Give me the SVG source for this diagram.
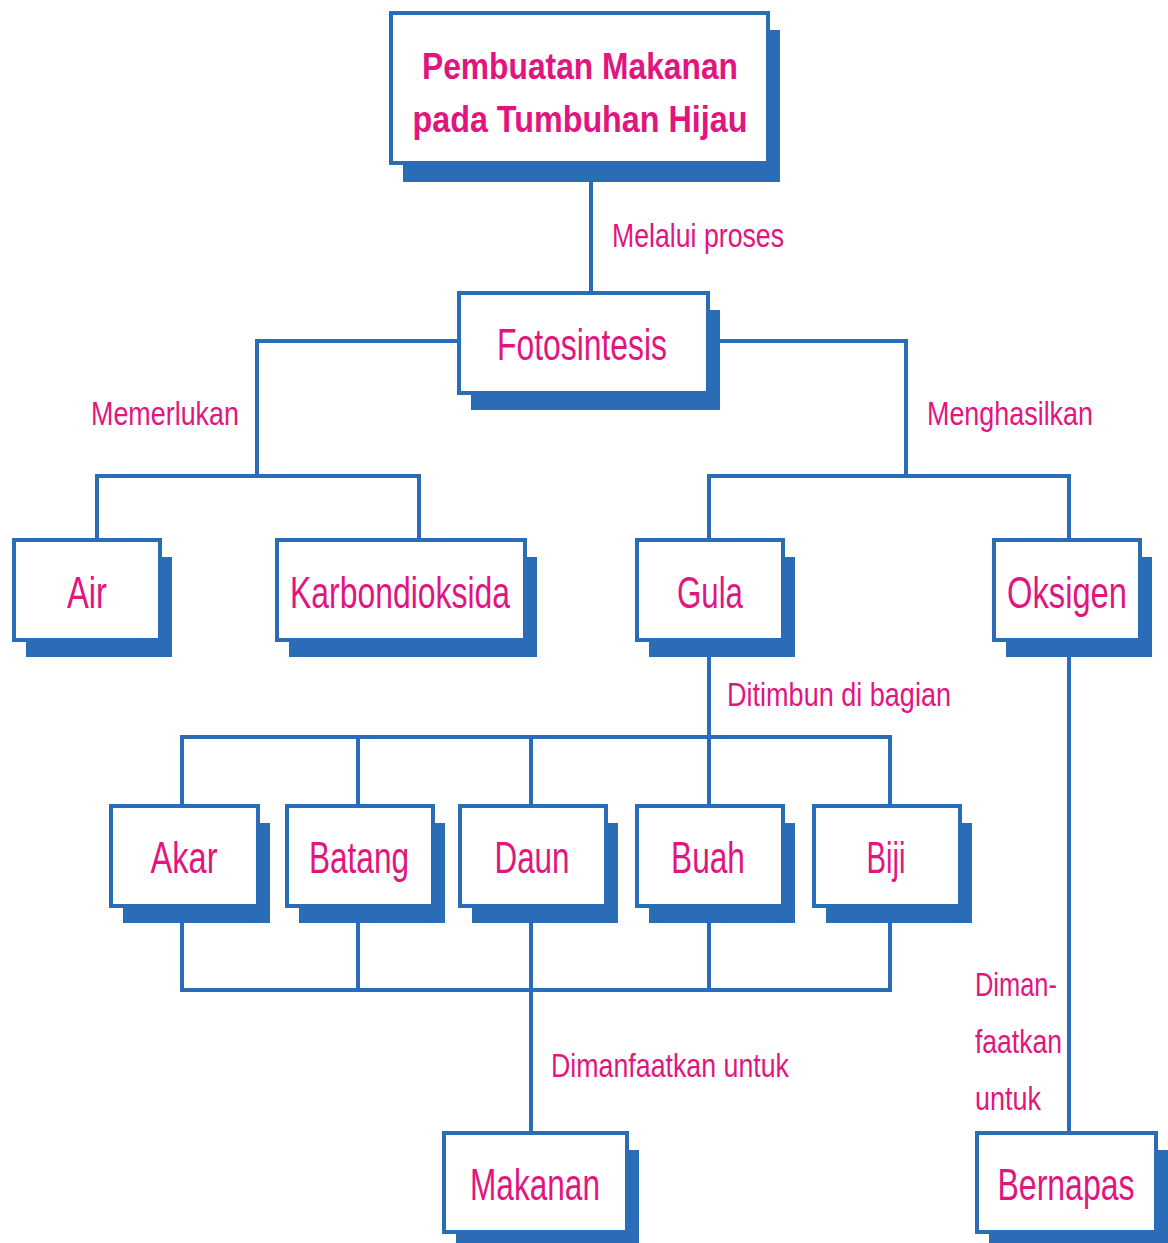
<svg xmlns="http://www.w3.org/2000/svg" width="1168" height="1243" viewBox="0 0 1168 1243">
<style>
.sh{fill:#2a6db6;stroke:none}
.bx{fill:#ffffff;stroke:#2a6db6;stroke-width:4}
.ln{fill:none;stroke:#2a6db6;stroke-width:4}
.nt{font-family:"Liberation Sans",Arial,sans-serif;font-size:44px;fill:#e2157f;text-anchor:middle}
.lb{font-family:"Liberation Sans",Arial,sans-serif;font-size:34px;fill:#e2157f}
.tt{font-family:"Liberation Sans",Arial,sans-serif;font-size:37px;font-weight:bold;fill:#e2157f;text-anchor:middle}
</style>
<rect width="1168" height="1243" fill="#ffffff"/>
<g id="connectors" class="ln">
<path d="M591 165 V293"/>
<path d="M459 341 H257 V476"/>
<path d="M97 540 V476 H419 V540"/>
<path d="M708 341 H906 V476"/>
<path d="M709 540 V476 H1069 V540"/>
<path d="M709 657 V806"/>
<path d="M182 806 V737 H890 V806"/>
<path d="M358 737 V806"/>
<path d="M531 737 V806"/>
<path d="M182 923 V990 H890 V923"/>
<path d="M358 923 V990"/>
<path d="M709 923 V990"/>
<path d="M531 923 V1133"/>
<path d="M1069 657 V1133"/>
</g>
<g id="labels">
<text class="lb" x="612" y="247" textLength="172" lengthAdjust="spacingAndGlyphs">Melalui proses</text>
<text class="lb" x="91" y="425" textLength="148" lengthAdjust="spacingAndGlyphs">Memerlukan</text>
<text class="lb" x="927" y="425" textLength="166" lengthAdjust="spacingAndGlyphs">Menghasilkan</text>
<text class="lb" x="727" y="706" textLength="224" lengthAdjust="spacingAndGlyphs">Ditimbun di bagian</text>
<text class="lb" x="551" y="1077" textLength="238" lengthAdjust="spacingAndGlyphs">Dimanfaatkan untuk</text>
<text class="lb" x="975" y="996" textLength="82" lengthAdjust="spacingAndGlyphs">Diman-</text>
<text class="lb" x="975" y="1053" textLength="87" lengthAdjust="spacingAndGlyphs">faatkan</text>
<text class="lb" x="975" y="1110" textLength="66" lengthAdjust="spacingAndGlyphs">untuk</text>
</g>
<g id="title">
<rect class="sh" x="403" y="30" width="377" height="152"/>
<rect class="bx" x="391" y="13" width="377" height="150"/>
<text class="tt" x="580" y="79" textLength="316" lengthAdjust="spacingAndGlyphs">Pembuatan Makanan</text>
<text class="tt" x="580" y="132" textLength="335" lengthAdjust="spacingAndGlyphs">pada Tumbuhan Hijau</text>
</g>
<g id="fotosintesis">
<rect class="sh" x="471" y="310" width="249" height="100"/>
<rect class="bx" x="459" y="293" width="249" height="100"/>
<text class="nt" x="582" y="360" textLength="170" lengthAdjust="spacingAndGlyphs">Fotosintesis</text>
</g>
<g id="air">
<rect class="sh" x="26" y="557" width="146" height="100"/>
<rect class="bx" x="14" y="540" width="146" height="100"/>
<text class="nt" x="87" y="608" textLength="40" lengthAdjust="spacingAndGlyphs">Air</text>
</g>
<g id="karbondioksida">
<rect class="sh" x="289" y="557" width="248" height="100"/>
<rect class="bx" x="277" y="540" width="248" height="100"/>
<text class="nt" x="400" y="608" textLength="220" lengthAdjust="spacingAndGlyphs">Karbondioksida</text>
</g>
<g id="gula">
<rect class="sh" x="649" y="557" width="146" height="100"/>
<rect class="bx" x="637" y="540" width="146" height="100"/>
<text class="nt" x="710" y="608" textLength="66" lengthAdjust="spacingAndGlyphs">Gula</text>
</g>
<g id="oksigen">
<rect class="sh" x="1006" y="557" width="146" height="100"/>
<rect class="bx" x="994" y="540" width="146" height="100"/>
<text class="nt" x="1067" y="608" textLength="120" lengthAdjust="spacingAndGlyphs">Oksigen</text>
</g>
<g id="akar">
<rect class="sh" x="123" y="823" width="147" height="100"/>
<rect class="bx" x="111" y="806" width="147" height="100"/>
<text class="nt" x="184" y="873" textLength="67" lengthAdjust="spacingAndGlyphs">Akar</text>
</g>
<g id="batang">
<rect class="sh" x="299" y="823" width="146" height="100"/>
<rect class="bx" x="287" y="806" width="146" height="100"/>
<text class="nt" x="359" y="873" textLength="100" lengthAdjust="spacingAndGlyphs">Batang</text>
</g>
<g id="daun">
<rect class="sh" x="472" y="823" width="146" height="100"/>
<rect class="bx" x="460" y="806" width="146" height="100"/>
<text class="nt" x="532" y="873" textLength="75" lengthAdjust="spacingAndGlyphs">Daun</text>
</g>
<g id="buah">
<rect class="sh" x="649" y="823" width="146" height="100"/>
<rect class="bx" x="637" y="806" width="146" height="100"/>
<text class="nt" x="708" y="873" textLength="74" lengthAdjust="spacingAndGlyphs">Buah</text>
</g>
<g id="biji">
<rect class="sh" x="826" y="823" width="146" height="100"/>
<rect class="bx" x="814" y="806" width="146" height="100"/>
<text class="nt" x="886" y="873" textLength="39" lengthAdjust="spacingAndGlyphs">Biji</text>
</g>
<g id="makanan">
<rect class="sh" x="456" y="1150" width="183" height="93"/>
<rect class="bx" x="444" y="1133" width="183" height="99"/>
<text class="nt" x="535" y="1200" textLength="130" lengthAdjust="spacingAndGlyphs">Makanan</text>
</g>
<g id="bernapas">
<rect class="sh" x="989" y="1150" width="179" height="93"/>
<rect class="bx" x="977" y="1133" width="179" height="99"/>
<text class="nt" x="1066" y="1200" textLength="137" lengthAdjust="spacingAndGlyphs">Bernapas</text>
</g>
</svg>
